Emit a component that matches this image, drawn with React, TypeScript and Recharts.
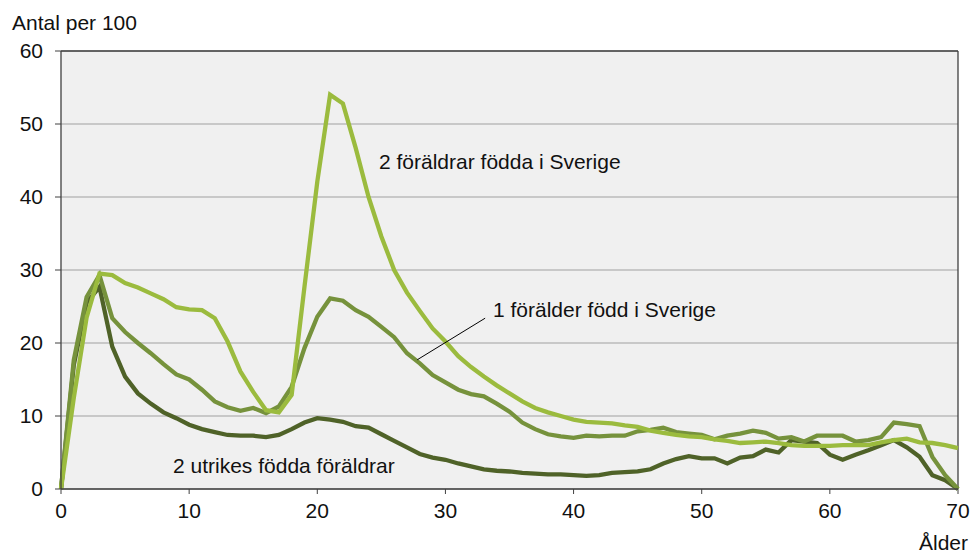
import React from "react";
import {
  LineChart,
  Line,
  XAxis,
  YAxis,
  CartesianGrid,
  ReferenceLine,
} from "recharts";

const ages: number[] = Array.from({ length: 71 }, (_, i) => i);

const sverige2: number[] = [
  0, 12.5, 23.5, 29.5, 29.3, 28.2, 27.6, 26.8, 26.0, 24.9, 24.6, 24.5, 23.4,
  20.2, 16.1, 13.3, 10.8, 10.5, 12.9, 27.7, 42.1, 54.0, 52.8, 46.7, 40.0, 34.6,
  30.0, 26.9, 24.4, 22.0, 20.2, 18.2, 16.7, 15.4, 14.2, 13.1, 12.0, 11.1, 10.5,
  10.0, 9.5, 9.2, 9.1, 9.0, 8.7, 8.5, 8.0, 7.7, 7.4, 7.2, 7.1, 6.8, 6.6, 6.3,
  6.4, 6.5, 6.3, 6.0, 5.9, 5.9, 5.9, 6.0, 6.0, 6.0, 6.4, 6.7, 6.9, 6.4, 6.3,
  6.0, 5.6,
];

const sverige1: number[] = [
  0, 17.7, 26.3, 29.3, 23.4, 21.5, 20.0, 18.6, 17.1, 15.7, 15.0, 13.6, 12.0,
  11.2, 10.7, 11.1, 10.4, 11.3, 14.0, 19.3, 23.6, 26.1, 25.8, 24.5, 23.6, 22.2,
  20.8, 18.6, 17.2, 15.6, 14.6, 13.6, 13.0, 12.7, 11.7, 10.6, 9.1, 8.2, 7.5,
  7.2, 7.0, 7.3, 7.2, 7.3, 7.3, 7.9, 8.1, 8.4, 7.8, 7.6, 7.4, 6.8, 7.3, 7.6,
  8.0, 7.7, 6.9, 7.1, 6.5, 7.3, 7.3, 7.3, 6.5, 6.7, 7.1, 9.1, 8.9, 8.6, 4.4,
  1.9, 0,
];

const utrikes: number[] = [
  0, 17.0, 25.5, 27.7, 19.5, 15.4, 13.1, 11.7, 10.5, 9.7, 8.8, 8.2, 7.8, 7.4,
  7.3, 7.3, 7.1, 7.4, 8.2, 9.1, 9.7, 9.5, 9.2, 8.6, 8.4, 7.5, 6.6, 5.7, 4.8,
  4.3, 4.0, 3.5, 3.1, 2.7, 2.5, 2.4, 2.2, 2.1, 2.0, 2.0, 1.9, 1.8, 1.9, 2.2,
  2.3, 2.4, 2.7, 3.5, 4.1, 4.5, 4.2, 4.2, 3.5, 4.3, 4.5, 5.4, 5.0, 6.7, 6.5,
  6.3, 4.7, 4.0, 4.7, 5.3, 6.0, 6.7, 5.7, 4.4, 1.9, 1.2, 0,
];

const xTicks: number[] = [0, 10, 20, 30, 40, 50, 60, 70];
const yTicks: number[] = [0, 10, 20, 30, 40, 50, 60];

const data = ages.map((a, i) => ({
  age: a,
  sverige2: sverige2[i],
  sverige1: sverige1[i],
  utrikes: utrikes[i],
}));

const FONT = "'Liberation Sans', Arial, sans-serif";
const AXIS = "#404040";

export default function App() {
  return (
    <div
      style={{
        position: "absolute",
        left: 0,
        top: 0,
        width: 972,
        height: 555,
        background: "#ffffff",
        fontFamily: FONT,
      }}
    >
      <LineChart
        width={972}
        height={555}
        data={data}
        margin={{ top: 51, right: 14, bottom: 36, left: 0 }}
      >
        <CartesianGrid
          vertical={false}
          stroke="#a0a0a0"
          strokeWidth={1}
          fill="#f0f0f0"
          fillOpacity={1}
        />
        <XAxis
          dataKey="age"
          type="number"
          domain={[0, 70]}
          ticks={xTicks}
          interval={0}
          height={30}
          tickSize={5}
          tickMargin={9}
          stroke={AXIS}
          axisLine={{ stroke: AXIS, strokeWidth: 1.3 }}
          tickLine={{ stroke: AXIS }}
          tick={{ fill: "#111", fontSize: 21, fontFamily: FONT }}
        />
        <YAxis
          type="number"
          domain={[0, 60]}
          ticks={yTicks}
          interval={0}
          width={61}
          tickSize={6}
          tickMargin={12}
          stroke={AXIS}
          axisLine={{ stroke: AXIS, strokeWidth: 1.3 }}
          tickLine={{ stroke: AXIS }}
          tick={{ fill: "#111", fontSize: 21, fontFamily: FONT }}
        />
        <ReferenceLine y={60} stroke={AXIS} strokeWidth={1.3} />
        <ReferenceLine x={70} stroke={AXIS} strokeWidth={1.3} />
        <Line
          dataKey="utrikes"
          stroke="#4f6228"
          strokeWidth={4.3}
          dot={false}
          isAnimationActive={false}
        />
        <Line
          dataKey="sverige1"
          stroke="#76923c"
          strokeWidth={4.3}
          dot={false}
          isAnimationActive={false}
        />
        <Line
          dataKey="sverige2"
          stroke="#9bbb3e"
          strokeWidth={4.3}
          dot={false}
          isAnimationActive={false}
        />
        <ReferenceLine
          segment={[
            { x: 27.8, y: 17.7 },
            { x: 33.1, y: 23.4 },
          ]}
          stroke="#000"
          strokeWidth={1}
        />
      </LineChart>
      <svg
        width={972}
        height={555}
        style={{ position: "absolute", left: 0, top: 0, pointerEvents: "none" }}
      >
        <g fontFamily={FONT} fontSize={21} fill="#111">
          <text x={12} y={30}>Antal per 100</text>
          <text x={379} y={169}>2 föräldrar födda i Sverige</text>
          <text x={493} y={317}>1 förälder född i Sverige</text>
          <text x={173} y={473}>2 utrikes födda föräldrar</text>
          <text x={968} y={550} textAnchor="end">Ålder</text>
        </g>
      </svg>
    </div>
  );
}
